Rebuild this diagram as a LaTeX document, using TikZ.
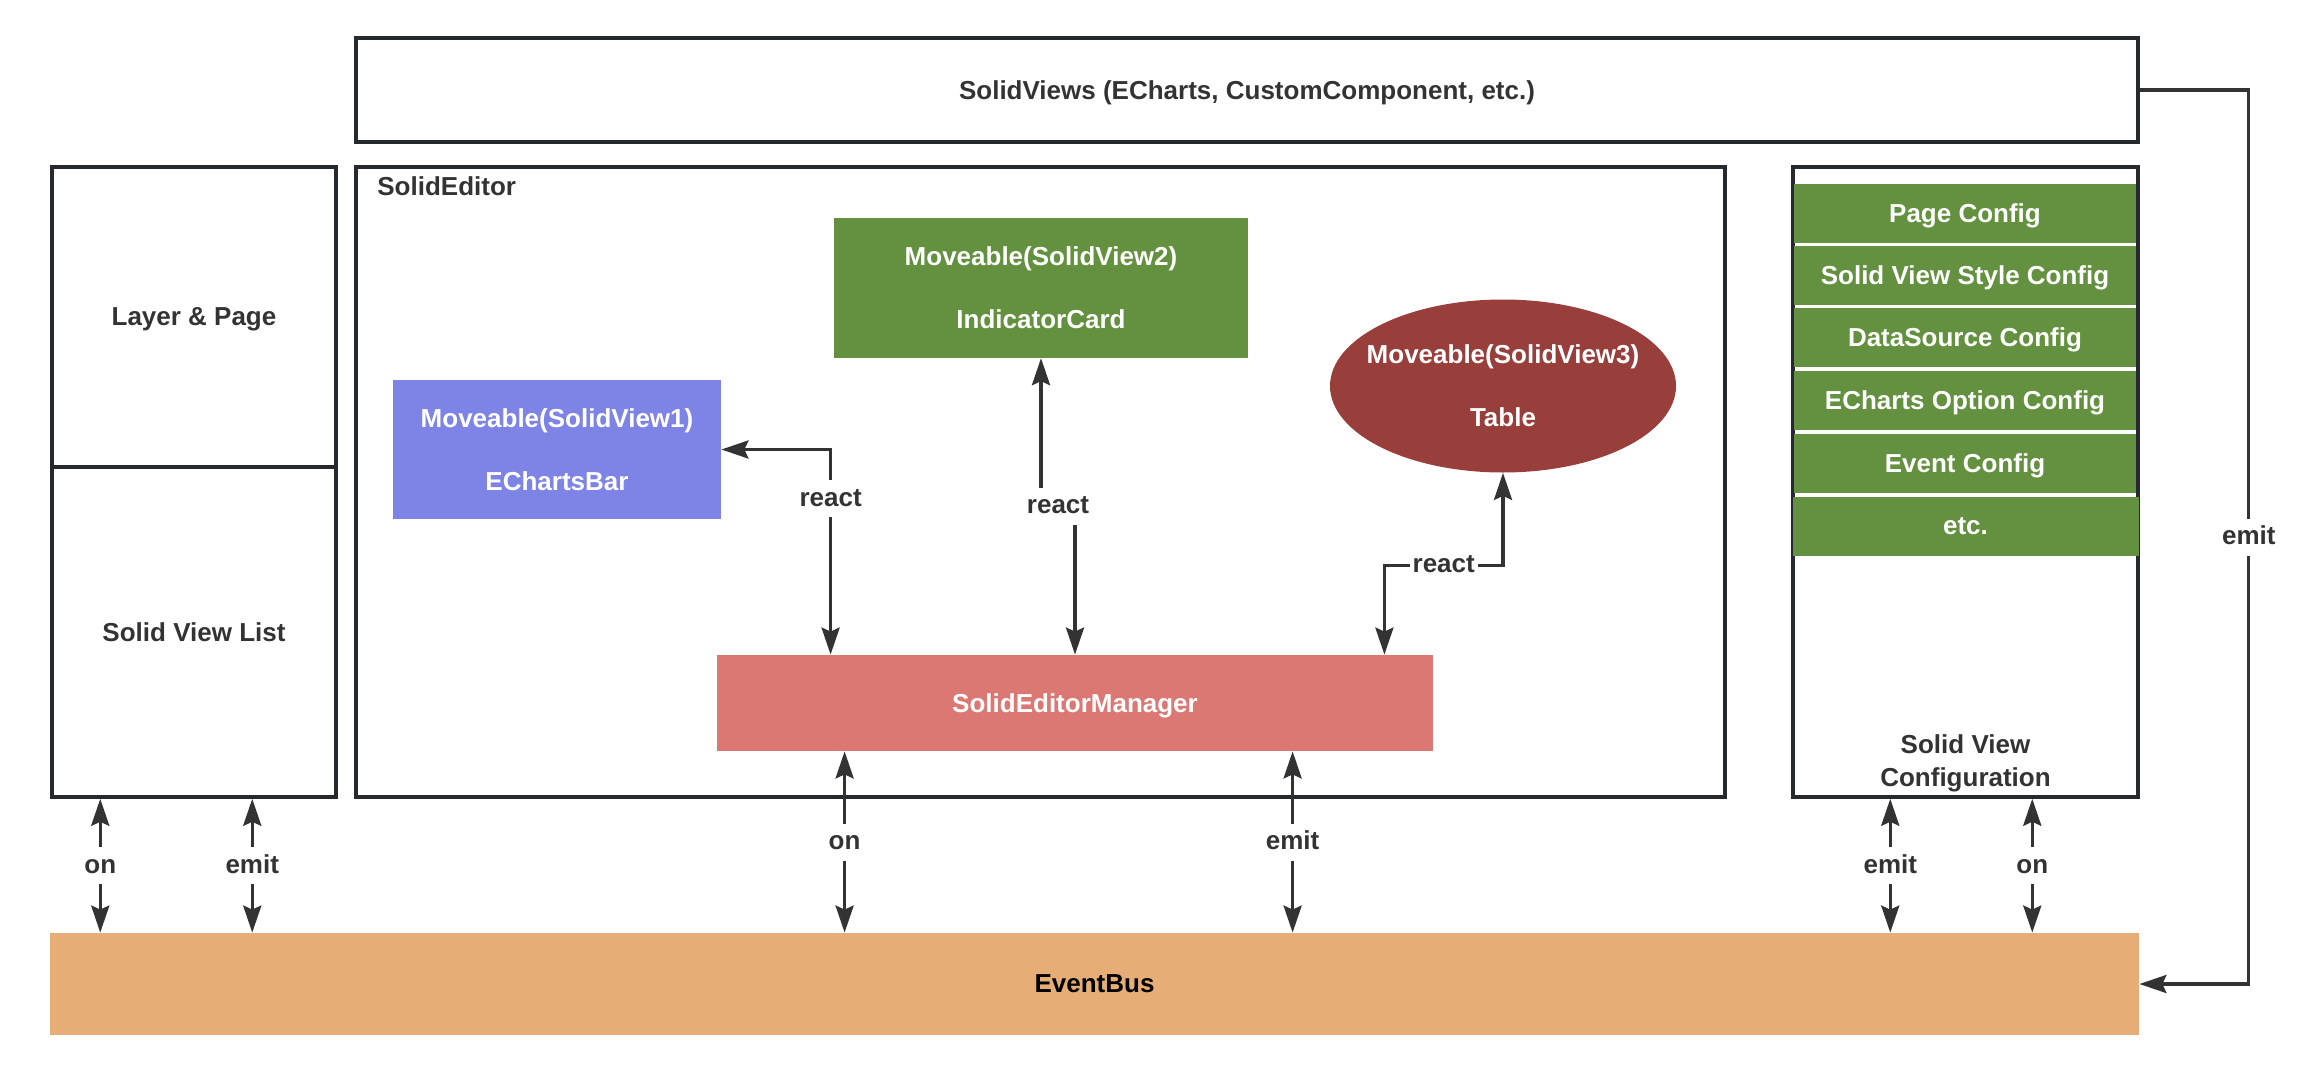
\documentclass[tikz,border=0pt]{standalone}
\usepackage{fontspec}
\setmainfont{Liberation Sans}
\usetikzlibrary{arrows.meta,calc,shapes.geometric}
\definecolor{bordc}{HTML}{262A2F}
\definecolor{arrc}{HTML}{333333}
\definecolor{txtc}{HTML}{333333}
\definecolor{bluec}{HTML}{7E84E5}
\definecolor{greenc}{HTML}{63913F}
\definecolor{redc}{HTML}{983F3C}
\definecolor{pinkc}{HTML}{DC7874}
\definecolor{orangec}{HTML}{E6AE76}
\begin{document}
\begin{tikzpicture}[x=0.5pt,y=-0.5pt,
  base/.style={font=\fontsize{13pt}{15.6pt}\selectfont\bfseries, inner sep=0pt, align=center, text depth=0pt},
  frame/.style={base, draw=bordc, line width=1.75pt, text=txtc},
  fillbox/.style={base, text=white},
  item/.style={fillbox, fill=greenc, minimum width=171pt, minimum height=29.5pt},
  twoline/.style={font=\fontsize{13pt}{31.5pt}\selectfont\bfseries},
  arr/.style={draw=arrc, line width=1.7pt, -{Stealth[length=13.5pt,width=9pt,inset=2pt]}},
  dbl/.style={draw=arrc, line width=1.7pt, {Stealth[length=13.5pt,width=9pt,inset=2pt]}-{Stealth[length=13.5pt,width=9pt,inset=2pt]}},
  lbl/.style={base, fill=white, text=txtc, inner xsep=1.5pt, inner ysep=3.5pt, text height=9.5pt, text depth=2pt}
]
\useasboundingbox (0,0) rectangle (2318,1086);

% frames
\node[frame, minimum width=891pt, minimum height=52pt] (views) at (1247,90) {SolidViews (ECharts, CustomComponent, etc.)};
\node[frame, minimum width=142pt, minimum height=150pt] (layer) at (194,317) {Layer \& Page};
\node[frame, minimum width=142pt, minimum height=165pt] (list) at (194,632) {Solid View List};
\node[frame, minimum width=684.5pt, minimum height=315pt] (editor) at (1040.5,482) {};
\node[base, text=txtc, anchor=west] (edlabel) at (377,186) {SolidEditor};
\node[frame, minimum width=172.5pt, minimum height=315pt] (config) at (1965.5,482) {};
\node[base, text=txtc, font=\fontsize{13pt}{16.5pt}\selectfont\bfseries] (cfglabel) at (1965.5,761) {Solid View\\Configuration};

% config items
\node[item] (i1) at (1965,213.5) {Page Config};
\node[item] (i2) at (1965,275.5) {Solid View Style Config};
\node[item] (i3) at (1965,337.5) {DataSource Config};
\node[item] (i4) at (1965,400.5) {ECharts Option Config};
\node[item] (i5) at (1965,463) {Event Config};
\node[item, minimum width=173pt] (i6) at (1965.5,526.5) {etc.};

% editor content
\node[fillbox, fill=greenc, minimum width=207pt, minimum height=69.75pt, twoline] (sv2) at (1041,288) {Moveable(SolidView2)\\IndicatorCard};
\node[fillbox, fill=bluec, minimum width=164pt, minimum height=69.5pt, twoline] (sv1) at (557,449.5) {Moveable(SolidView1)\\EChartsBar};
\node[ellipse, fill=redc, minimum width=173pt, minimum height=86.5pt, inner sep=0pt] (ell) at (1503,386) {};
\node[fillbox, twoline] (elltext) at (ell.center) {Moveable(SolidView3)\\Table};
\node[fillbox, fill=pinkc, minimum width=358pt, minimum height=48pt] (mgr) at (1075,703) {SolidEditorManager};

% event bus
\node[base, fill=orangec, text=black, minimum width=1044.5pt, minimum height=51pt] (bus) at (1094.5,984) {EventBus};

% coordinates for connector ends
\coordinate (r1) at ([xshift=57pt]mgr.north west);
\coordinate (r3) at ([xshift=-24.5pt]mgr.north east);
\coordinate (on1) at ([xshift=25pt]list.south west);
\coordinate (em1) at ([xshift=101pt]list.south west);
\coordinate (on2) at ([xshift=64pt]mgr.south west);
\coordinate (em2) at ([xshift=288pt]mgr.south west);
\coordinate (em3) at ([xshift=49.5pt]config.south west);
\coordinate (on3) at ([xshift=120.5pt]config.south west);
\coordinate (mid2) at ($(sv2.south)!0.5!(mgr.north)$);

% react connectors
\draw[dbl] (sv1.east) -| node[lbl, pos=0.62] {react} (r1);
\draw[dbl] (sv2.south) |- (mid2) -| (mgr.north);
\node[lbl] (react2) at (mid2) {react};
\draw[dbl] (ell.south) -- ++(0,92.5) -| node[lbl, pos=0.25] {react} (r3);

% event connectors
\draw[dbl] (on1) -- node[lbl] {on} (on1 |- bus.north);
\draw[dbl] (em1) -- node[lbl] {emit} (em1 |- bus.north);
\draw[dbl] (on2) -- node[lbl] {on} (on2 |- bus.north);
\draw[dbl] (em2) -- node[lbl] {emit} (em2 |- bus.north);
\draw[dbl] (em3) -- node[lbl] {emit} (em3 |- bus.north);
\draw[dbl] (on3) -- node[lbl] {on} (on3 |- bus.north);
\draw[arr] (views.east) -- ++(109,0) |- node[lbl, pos=0.25] {emit} (bus.east);
\end{tikzpicture}
\end{document}
